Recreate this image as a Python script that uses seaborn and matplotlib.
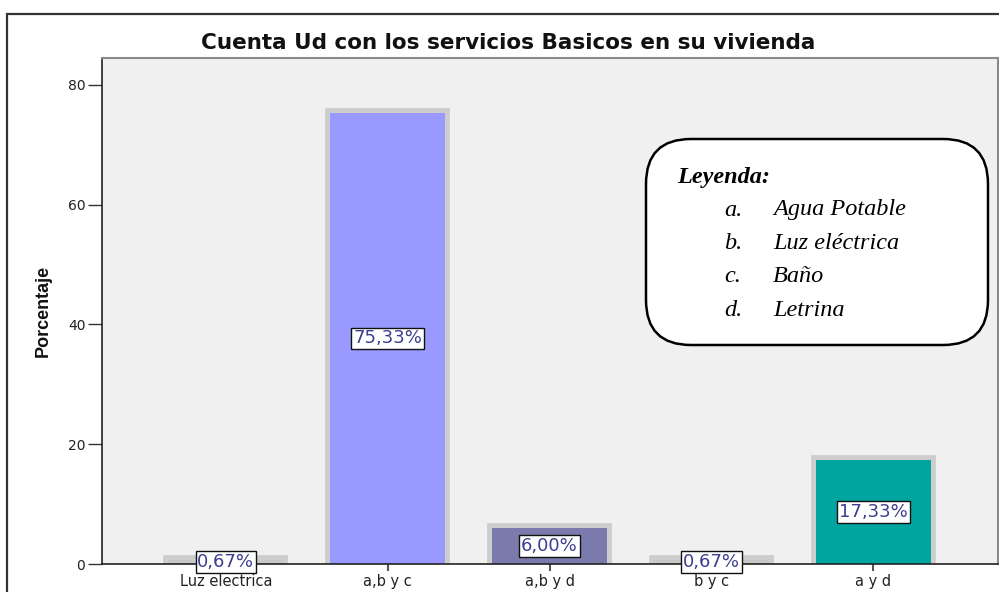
import numpy as np
import pandas as pd
import matplotlib
matplotlib.use("Agg")
import matplotlib.pyplot as plt
import matplotlib.patheffects as pe
from matplotlib.patches import Rectangle, FancyBboxPatch
import seaborn as sns

# data
categorias = ["Luz electrica", "a,b y c", "a,b y d", "b y c", "a y d"]
porcentajes = [0.67, 75.33, 6.00, 0.67, 17.33]
etiquetas = ["0,67%", "75,33%", "6,00%", "0,67%", "17,33%"]
colores = ["#c8c8c8", "#9999ff", "#7a7aac", "#c8c8c8", "#00a5a0"]
y_ticks = [0, 20, 40, 60, 80]

leyenda_titulo = "Leyenda:"
leyenda_letras = ["a.", "b.", "c.", "d."]
leyenda_items = ["Agua Potable", "Luz eléctrica", "Baño", "Letrina"]

sns.set_theme(style="white")
plt.rcParams['font.family'] = ['DejaVu Sans']

W, H = 999, 592
fig = plt.figure(figsize=(W / 100, H / 100), dpi=100)
fig.patch.set_facecolor("white")

# plot area in pixels: x 102..998, y 58..564
ax = fig.add_axes([102 / W, (H - 564) / H, (998 - 102) / W, (564 - 58) / H])
ax.set_facecolor("#f0f0f0")

df = pd.DataFrame({"categoria": categorias, "porcentaje": porcentajes})
sns.barplot(data=df, x="categoria", y="porcentaje", hue="categoria",
            palette=colores, width=0.71, saturation=1, legend=False, ax=ax)

# grey halo around the bars, like the SPSS output
for bar in ax.patches:
    bar.set_linewidth(0)
    bar.set_path_effects([pe.Stroke(linewidth=7, foreground="#cdcdcd",
                                    joinstyle="miter"), pe.Normal()])

ax.set_xlim(-0.765, 4.77)
ax.set_ylim(0, 84.5)
ax.set_yticks(y_ticks)
ax.set_yticklabels([str(t) for t in y_ticks], fontsize=10, color="#222222")
ax.tick_params(axis="y", direction="out", length=10, width=1, color="#333333", pad=2, left=True)
ax.tick_params(axis="x", direction="out", length=5, width=1.5, color="#555555", pad=2, bottom=True)
ax.set_xticks(range(len(categorias)))
ax.set_xticklabels(categorias, fontsize=10.5, color="#222222")
ax.set_xlabel("")
ax.set_ylabel("")

for s in ["left", "bottom"]:
    ax.spines[s].set_color("#222222")
    ax.spines[s].set_linewidth(1.2)
for s in ["top", "right"]:
    ax.spines[s].set_color("#8a8a8a")
    ax.spines[s].set_linewidth(1.5)

# value labels at half height
for i, (v, t) in enumerate(zip(porcentajes, etiquetas)):
    ax.text(i, v / 2, t, ha="center", va="center", fontsize=13, color="#3d3d8f",
            zorder=5, clip_on=False,
            bbox=dict(boxstyle="square,pad=0.1", facecolor="white",
                      edgecolor="#111111", linewidth=1))

# y label
fig.text(43 / W, (H - 311) / H, "Porcentaje", rotation=90, ha="center", va="center",
         fontsize=13, fontweight="bold", color="#111111",
         family=["Liberation Sans", "DejaVu Sans"])

# title
fig.text(508 / W, (H - 43) / H, "Cuenta Ud con los servicios Basicos en su vivienda",
         ha="center", va="center", fontsize=15.5, fontweight="bold", color="#111111")

# outer frame
fig.patches.append(Rectangle((7 / W, -0.05), 1.1, (H - 14) / H + 0.05,
                             transform=fig.transFigure, fill=False,
                             edgecolor="#333333", linewidth=1.6))

# legend box
box = FancyBboxPatch((646 / W, (H - 345) / H), (988 - 646) / W, (345 - 139) / H,
                     boxstyle="round,pad=0,rounding_size=0.045",
                     transform=fig.transFigure, facecolor="white",
                     edgecolor="black", linewidth=1.8, mutation_aspect=W / H, zorder=6)
fig.patches.append(box)
serif = ["Liberation Serif", "DejaVu Serif"]
fig.text(677 / W, (H - 178) / H, leyenda_titulo, ha="left", va="center", fontsize=17.5,
         fontweight="bold", fontstyle="italic", family=serif, color="black", zorder=7)
ys = [210, 243, 277, 310]
for y, l, it in zip(ys, leyenda_letras, leyenda_items):
    fig.text(724 / W, (H - y) / H, l, ha="left", va="center", fontsize=17.5,
             fontstyle="italic", family=serif, color="black", zorder=7)
    fig.text(773 / W, (H - y) / H, it, ha="left", va="center", fontsize=17.5,
             fontstyle="italic", family=serif, color="black", zorder=7)

fig.savefig("out.png", dpi=100)
